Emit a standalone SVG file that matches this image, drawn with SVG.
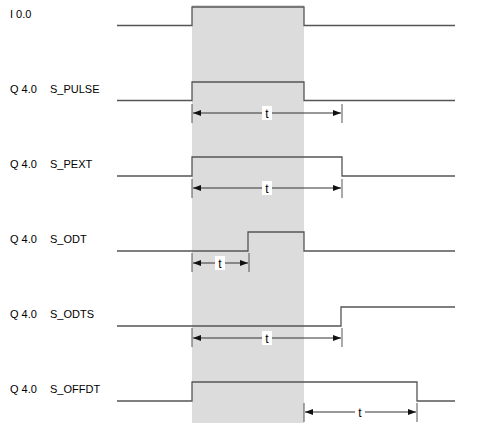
<svg xmlns="http://www.w3.org/2000/svg" width="484" height="426" viewBox="0 0 484 426">
<style>
.sig{fill:none;stroke:#555;stroke-width:1.3}
.dim{fill:none;stroke:#333;stroke-width:1}
.tick{fill:none;stroke:#555;stroke-width:1}
.lbl{font-family:"Liberation Sans",Arial,sans-serif;font-size:11px;fill:#000}
.t{font-family:"Liberation Sans",Arial,sans-serif;font-size:12px;fill:#000;text-anchor:middle}
.bg{fill:#fff}
</style>
<defs>
<marker id="ah" viewBox="0 0 8 6" refX="8" refY="3" markerWidth="8" markerHeight="6" markerUnits="userSpaceOnUse" orient="auto-start-reverse">
<path d="M0,0 L8,3 L0,6 Z" fill="#111"/>
</marker>
</defs>
<rect id="window" x="192" y="5" width="112" height="418" fill="#dcdcdc"/>
<g id="labels">
<text class="lbl" x="10" y="18">I 0.0</text>
<text class="lbl" x="10" y="93">Q 4.0</text><text class="lbl" x="50" y="93">S_PULSE</text>
<text class="lbl" x="10" y="168">Q 4.0</text><text class="lbl" x="50" y="168">S_PEXT</text>
<text class="lbl" x="10" y="243">Q 4.0</text><text class="lbl" x="50" y="243">S_ODT</text>
<text class="lbl" x="10" y="318">Q 4.0</text><text class="lbl" x="50" y="318">S_ODTS</text>
<text class="lbl" x="10" y="393">Q 4.0</text><text class="lbl" x="50" y="393">S_OFFDT</text>
</g>
<g id="signals">
<polyline id="s-i00" class="sig" points="117,25.5 192,25.5 192,7 304,7 304,25.5 455,25.5"/>
<polyline id="s-pulse" class="sig" points="117,100.5 192,100.5 192,82 304,82 304,100.5 455,100.5"/>
<polyline id="s-pext" class="sig" points="117,176 192,176 192,157 342,157 342,176 455,176"/>
<polyline id="s-odt" class="sig" points="117,251 248,251 248,232 304,232 304,251 455,251"/>
<polyline id="s-odts" class="sig" points="117,326 341,326 341,307 455,307"/>
<polyline id="s-offdt" class="sig" points="117,401 192,401 192,382 417,382 417,401 455,401"/>
</g>
<g id="connectors">
<path class="tick" d="M192,104V123M342,104V123"/>
<line class="dim" x1="193" y1="113" x2="341" y2="113" marker-start="url(#ah)" marker-end="url(#ah)"/>
<path class="tick" d="M192,179V198M342,179V198"/>
<line class="dim" x1="193" y1="188" x2="341" y2="188" marker-start="url(#ah)" marker-end="url(#ah)"/>
<path class="tick" d="M192,253V272M249,253V272"/>
<line class="dim" x1="193" y1="263" x2="248" y2="263" marker-start="url(#ah)" marker-end="url(#ah)"/>
<path class="tick" d="M192,328V347M342,328V347"/>
<line class="dim" x1="193" y1="338" x2="341" y2="338" marker-start="url(#ah)" marker-end="url(#ah)"/>
<path class="tick" d="M304,403V422M417,403V422"/>
<line class="dim" x1="305" y1="412" x2="416" y2="412" marker-start="url(#ah)" marker-end="url(#ah)"/>
</g>
<g id="dim-labels">
<rect class="bg" x="262" y="106" width="10" height="14"/><text class="t" x="267" y="118">t</text>
<rect class="bg" x="262" y="181" width="10" height="14"/><text class="t" x="267" y="193">t</text>
<rect class="bg" x="215" y="256" width="10" height="14"/><text class="t" x="220" y="268">t</text>
<rect class="bg" x="262" y="331" width="10" height="14"/><text class="t" x="267" y="343">t</text>
<rect class="bg" x="355" y="405" width="10" height="14"/><text class="t" x="360" y="417">t</text>
</g>
</svg>
